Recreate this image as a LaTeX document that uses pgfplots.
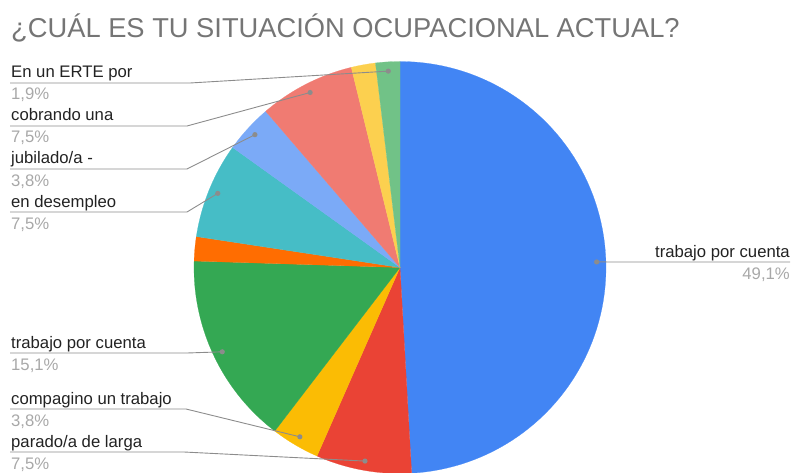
\documentclass[border=0pt]{standalone}
\usepackage{pgfplots}
\pgfplotsset{compat=1.18}
\usepackage{fontspec}
\setmainfont{Liberation Sans}
\definecolor{c1}{HTML}{4285F4}
\definecolor{c2}{HTML}{EA4335}
\definecolor{c3}{HTML}{FBBC04}
\definecolor{c4}{HTML}{34A853}
\definecolor{c5}{HTML}{FF6D01}
\definecolor{c6}{HTML}{46BDC6}
\definecolor{c7}{HTML}{7BAAF7}
\definecolor{c8}{HTML}{F07B72}
\definecolor{c9}{HTML}{FCD04F}
\definecolor{c10}{HTML}{71C287}
\definecolor{titlec}{HTML}{757575}
\definecolor{tc}{HTML}{222222}
\definecolor{pc}{HTML}{A8A8A8}
\definecolor{lc}{HTML}{8C8C8C}
\newcommand\lab{\fontsize{16.7}{20}\selectfont}
\newcommand\leftlabel[5]{%
  \draw[lc, line width=0.9pt] (d#1) -- (#3,472-#2) -- (10,472-#2);
  \fill[lc] (d#1) circle (2.6);
  \node[anchor=base west, inner sep=0, font=\lab, text=tc] at (11,472-#2+5) {#4};
  \node[anchor=base west, inner sep=0, font=\lab, text=pc] at (11,472-#2-17) {#5};
}
\begin{document}
\begin{tikzpicture}[x=1pt,y=1pt]
\useasboundingbox (0,0) rectangle (792,472);
\begin{axis}[at={(400pt,204.5pt)}, anchor=origin, x=206pt, y=206pt,
  xmin=-1, xmax=1, ymin=-1, ymax=1, hide axis, clip=false]
\xdef\cumA{90}
\foreach \v/\c [count=\i] in {49.1/c1, 7.5/c2, 3.8/c3, 15.1/c4, 1.9/c5, 7.5/c6, 3.8/c7, 7.5/c8, 1.9/c9, 1.9/c10}{
  \pgfmathsetmacro{\startA}{\cumA-3.6*\v}
  \pgfmathsetmacro{\midA}{\cumA-1.8*\v}
  \pgfmathsetmacro{\dx}{0.955*cos(\midA)}
  \pgfmathsetmacro{\dy}{0.955*sin(\midA)}
  \edef\doslice{\noexpand\addplot[fill=\c, draw=\c, line width=0.2pt, domain=\startA:\cumA, samples=90, variable=\noexpand\t] ({cos(\noexpand\t)},{sin(\noexpand\t)}) -- (axis cs:0,0) -- cycle;
  \noexpand\coordinate (d\i) at (axis cs:\dx,\dy);}
  \doslice
  \xdef\cumA{\startA}
}
\end{axis}
\node[anchor=base west, inner sep=0, text=titlec, font=\fontsize{27.3}{32}\selectfont] at (11,434) {¿CUÁL ES TU SITUACIÓN OCUPACIONAL ACTUAL?};
\leftlabel{10}{83}{190}{En un ERTE por}{1,9\%}
\leftlabel{8}{126}{187}{cobrando una}{7,5\%}
\leftlabel{7}{169}{187}{jubilado/a -}{3,8\%}
\leftlabel{6}{212}{187}{en desempleo}{7,5\%}
\leftlabel{4}{353}{187}{trabajo por cuenta}{15,1\%}
\leftlabel{3}{409}{186}{compagino un trabajo}{3,8\%}
\leftlabel{2}{452}{184}{parado/a de larga}{7,5\%}
\draw[lc, line width=0.9pt] (d1) -- (790,472-262);
\fill[lc] (d1) circle (2.6);
\node[anchor=base east, inner sep=0, font=\lab, text=tc] at (790,472-262+5) {trabajo por cuenta};
\node[anchor=base east, inner sep=0, font=\lab, text=pc] at (790,472-262-17) {49,1\%};
\end{tikzpicture}
\end{document}
